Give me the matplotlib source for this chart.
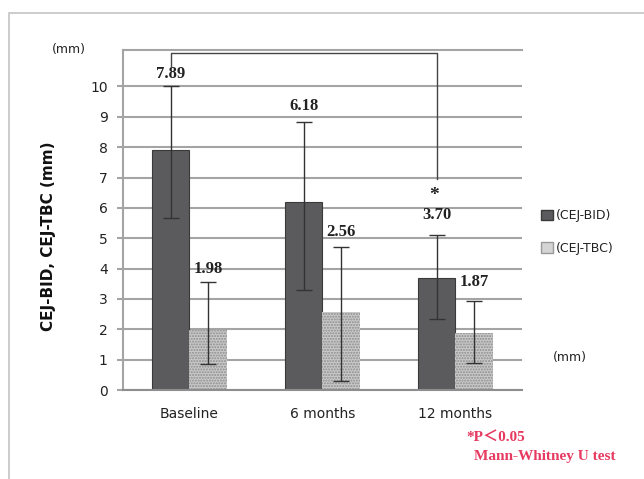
import numpy as np
import matplotlib.pyplot as plt
from matplotlib.patches import Patch, Rectangle

# Data
groups = ['Baseline', '6 months', '12 months']
bid_mean = np.array([7.89, 6.18, 3.70])   # CEJ-BID
bid_lo = np.array([5.66, 3.28, 2.35])     # lower end of error bar
bid_hi = np.array([10.0, 8.83, 5.11])     # upper end of error bar
tbc_mean = np.array([1.98, 2.56, 1.87])   # CEJ-TBC
tbc_lo = np.array([0.86, 0.29, 0.90])
tbc_hi = np.array([3.56, 4.72, 2.93])
yticks = np.arange(0, 11)

# label offsets above the caps (points)
bid_dy = [9.1, 11.2, 14.4]
tbc_dy = [9.6, 10.8, 13.9]

W, H = 644, 479
fig = plt.figure(figsize=(W/100, H/100), dpi=100)
ax = fig.add_axes([122.7/W, 1-390/H, (522-122.7)/W, (390-50)/H])

# thin grey frame around the whole panel
fig.patches.append(Rectangle((9/W, -0.1), 1.2, 1-12.7/H+0.1, transform=fig.transFigure,
                             fill=False, edgecolor='#c4c4c4', lw=1.2))

x = np.arange(len(groups))
w = 0.28
grid_c = '#a4a4a4'

ax.bar(x-w/2, bid_mean, w, color='#5b5b5d', edgecolor='#3a3a3a', lw=0.8, zorder=2)
ax.bar(x+w/2, tbc_mean, w, color='#cacaca', edgecolor='#8c8c8c', lw=0, hatch='......', zorder=2)

ax.errorbar(x-w/2, bid_mean, yerr=[bid_mean-bid_lo, bid_hi-bid_mean], fmt='none',
            ecolor='#333333', elinewidth=1, capsize=5.5, capthick=1, zorder=3)
ax.errorbar(x+w/2, tbc_mean, yerr=[tbc_mean-tbc_lo, tbc_hi-tbc_mean], fmt='none',
            ecolor='#333333', elinewidth=1, capsize=5.5, capthick=1, zorder=3)

lab_font = dict(family='Liberation Serif', weight='bold', size=12, color='#222222')
for i in range(len(groups)):
    ax.annotate('%.2f' % bid_mean[i], (x[i]-w/2, bid_hi[i]), xytext=(0, bid_dy[i]),
                textcoords='offset points', ha='center', va='center', **lab_font)
    ax.annotate('%.2f' % tbc_mean[i], (x[i]+w/2, tbc_hi[i]), xytext=(0, tbc_dy[i]),
                textcoords='offset points', ha='center', va='center', **lab_font)

# significance bracket Baseline vs 12 months
bx0, bx1 = x[0]-w/2, x[2]-w/2
ax.plot([bx0, bx0, bx1, bx1], [10.63, 11.09, 11.09, 6.96], color='#444444', lw=1,
        clip_on=False, zorder=3)
ax.text(bx1-0.02, 6.42, '*', ha='center', va='center', fontsize=14,
        family='Liberation Serif', weight='bold', color='#222222')

ax.set_xlim(-0.5, 2.5)
ax.set_ylim(0, 11.2)
ax.set_yticks(yticks)
ax.set_xticks(x)
ax.set_xticklabels(groups)
ax.yaxis.grid(True, color=grid_c, lw=1.5)
ax.set_axisbelow(True)
ax.tick_params(axis='y', length=4.3, width=1.5, color=grid_c, pad=6.5,
               labelsize=10, labelcolor='#222222')
ax.tick_params(axis='x', length=0, pad=12, labelsize=10, labelcolor='#222222')
for s in ['left', 'top', 'bottom']:
    ax.spines[s].set_color(grid_c)
    ax.spines[s].set_linewidth(1.5)
ax.spines['bottom'].set_color('#8e8e8e')
ax.spines['right'].set_visible(False)

fig.text(48.3/W, 1-236/H, 'CEJ-BID, CEJ-TBC (mm)', rotation=90, ha='center', va='center',
         fontsize=11, weight='bold', color='#111111')
fig.text(69/W, 1-49/H, '(mm)', ha='center', va='center', fontsize=9, color='#222222')
fig.text(570/W, 1-358/H, '(mm)', ha='center', va='center', fontsize=9, color='#222222')

handles = [Patch(facecolor='#5b5b5d', edgecolor='#3a3a3a'),
           Patch(facecolor='#d4d4d4', edgecolor='#9a9a9a')]
fig.legend(handles, ['(CEJ-BID)', '(CEJ-TBC)'], loc='upper left',
           bbox_to_anchor=(530/W, 1-198/H), frameon=False, fontsize=9,
           handlelength=0.9, handleheight=0.9, handletextpad=0.25, labelspacing=1.55,
           labelcolor='#222222')

red = '#e63a60'
fig.text(466.7/W, 1-437.5/H, '*P＜0.05', ha='left', va='center', fontsize=11, weight='bold',
         family=['Liberation Serif', 'Noto Sans CJK JP'], color=red)
fig.text(474.3/W, 1-456.7/H, 'Mann-Whitney U test', ha='left', va='center', fontsize=11,
         weight='bold', family='Liberation Serif', color=red)

fig.savefig('out.png', dpi=100)
